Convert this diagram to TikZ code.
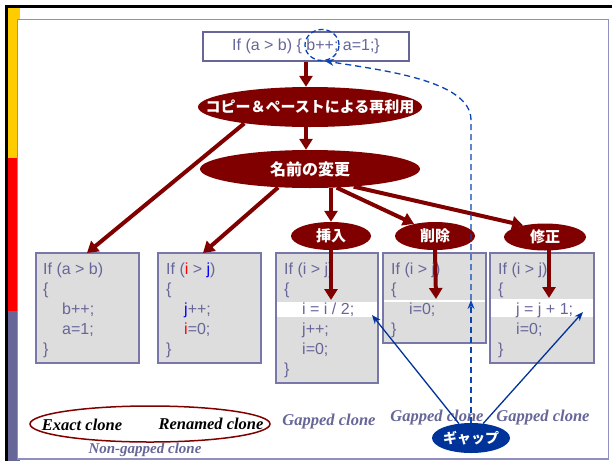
\documentclass[tikz,border=0pt]{standalone}
\usepackage{fontspec}
\setmainfont{Liberation Sans}
\newfontfamily\codef{Liberation Sans}
\newfontfamily\serf{Liberation Serif}
\newfontfamily\jpf{Noto Sans CJK JP}
\usetikzlibrary{shapes.geometric,arrows.meta}
\definecolor{darkred}{HTML}{800000}
\definecolor{codecol}{HTML}{666699}
\definecolor{boxborder}{HTML}{7777AA}
\definecolor{boxfill}{HTML}{DDDDDD}
\definecolor{frameline}{HTML}{9090C0}
\definecolor{darkblue}{HTML}{003399}
\definecolor{dashblue}{HTML}{0A45B5}
\definecolor{baryellow}{HTML}{FFCC00}
\definecolor{barred}{HTML}{FF0000}
\definecolor{barpurple}{HTML}{666699}
\begin{document}
\begin{tikzpicture}[x=1pt,y=-1pt,
  codebox/.style={draw=boxborder, fill=boxfill, line width=1.5pt},
  code/.style={font=\codef\fontsize{16}{19}\selectfont, text=codecol, anchor=base west, inner sep=0pt},
  redell/.style={ellipse, fill=darkred, text=white, inner sep=0pt, font=\jpf\bfseries\fontsize{15}{18}\selectfont},
  redarrow/.style={draw=darkred, line width=4pt, -{Triangle[width=13pt,length=11pt]}},
  bluearrow/.style={draw=darkblue, line width=1.3pt, -{Stealth[width=7pt,length=9pt]}},
  dasharrow/.style={draw=dashblue, line width=1.3pt, dash pattern=on 6pt off 4pt, -{Stealth[width=7pt,length=9pt]}},
  label/.style={font=\serf\bfseries\itshape\fontsize{16.5}{19}\selectfont, inner sep=0pt}
]
\useasboundingbox (0,0) rectangle (612,461);
% frame
\fill[white] (0,0) rectangle (612,461);
\fill[black] (5,5) rectangle (612,8);
\fill[black] (5,5) rectangle (8,461);
\fill[baryellow] (8,8) rectangle (20,158);
\fill[barred] (8,158) rectangle (20,311);
\fill[barpurple] (8,311) rectangle (20,461);
\draw[frameline, line width=1.5pt, fill=white] (17.5,19.5) rectangle (608.5,459);

% top box
\node[draw=codecol, line width=1.5pt, fill=white, minimum width=206pt, minimum height=29pt, inner sep=0pt,
      font=\codef\fontsize{16}{19}\selectfont, text=codecol] (topbox) at (306,46.5) {If (a > b) \{ b++; a=1;\}};
\node[draw=dashblue, line width=1.3pt, dash pattern=on 5pt off 3pt, ellipse, minimum width=34pt, minimum height=31pt, inner sep=0pt] (gapc) at (322,45) {};

% ellipses
\node[redell, minimum width=224pt, minimum height=40pt] (ell1) at (310,107) {\makebox[0pt]{コピー＆ペーストによる再利用}};
\node[redell, minimum width=220pt, minimum height=38pt, font=\jpf\bfseries\fontsize{16}{18}\selectfont] (ell2) at (310,169) {\makebox[0pt]{名前の変更}};
\node[redell, minimum width=80pt, minimum height=28pt] (ins) at (331,236) {\makebox[0pt]{挿入}};
\node[redell, minimum width=80pt, minimum height=28pt] (del) at (435,236) {\makebox[0pt]{削除}};
\node[redell, minimum width=82pt, minimum height=27pt] (mod) at (545,237) {\makebox[0pt]{修正}};

% boxes
\draw[codebox] (36,253) rectangle (139,363);
\draw[codebox] (158,253) rectangle (261,363);
\draw[codebox] (276,253) rectangle (378,383);
\draw[codebox] (383,253) rectangle (486,343);
\draw[codebox] (490,253) rectangle (594,363);
\fill[white] (277,302) rectangle (377,317);
\fill[white] (384,300) rectangle (485,302);
\fill[white] (491,299) rectangle (593,317);
\coordinate (b1top) at (87,253);
\coordinate (b2top) at (203,253);
\coordinate (b3tip) at (331,300);
\coordinate (b4tip) at (436,299);
\coordinate (m5s) at (549,250);
\coordinate (b5tip) at (549,298);
\coordinate (b3band) at (372,315);
\coordinate (b5band) at (583,312);
\coordinate (b4line) at (471,300);

% code text
\node[code] (a1) at (43,274) {If (a > b)};
\node[code] (a2) at (43,294) {\{};
\node[code] (a3) at (62,314) {b++;};
\node[code] (a4) at (62,334) {a=1;};
\node[code] (a5) at (43,354) {\}};

\node[code] (c1) at (166,274) {If ({\color{red}i} > {\color{blue}j})};
\node[code] (c2) at (166,294) {\{};
\node[code] (c3) at (184,314) {{\color{blue}j}++;};
\node[code] (c4) at (184,334) {{\color{red}i}=0;};
\node[code] (c5) at (166,354) {\}};

\node[code] (d1) at (284,274) {If (i > j)};
\node[code] (d2) at (284,294) {\{};
\node[code] (d3) at (302,314) {i = i / 2;};
\node[code] (d4) at (302,334) {j++;};
\node[code] (d5) at (302,354) {i=0;};
\node[code] (d6) at (284,374) {\}};

\node[code] (e1) at (391,274) {If (i > j)};
\node[code] (e2) at (391,294) {\{};
\node[code] (e3) at (409,314) {i=0;};
\node[code] (e4) at (391,334) {\}};

\node[code] (f1) at (498,274) {If (i > j)};
\node[code] (f2) at (498,294) {\{};
\node[code] (f3) at (516,314) {j = j + 1;};
\node[code] (f4) at (516,334) {i=0;};
\node[code] (f5) at (498,354) {\}};

% red arrows
\draw[redarrow] (topbox.south) -- (topbox.south |- ell1.north);
\draw[redarrow] (ell1.south -| topbox.south) -- (ell2.north -| topbox.south);
\draw[redarrow] (ell1.194) -- (b1top);
\draw[redarrow] (ell2.210) -- (b2top);
\draw[redarrow] (ins.north |- ell2.south) -- (ins.north);
\draw[redarrow] (ell2.325) -- (del.150);
\draw[redarrow] (ell2.338) -- (mod.152);
\draw[redarrow] (ins.south) -- (b3tip);
\draw[redarrow] (del.south) -- (b4tip);
\draw[redarrow] (m5s) -- (b5tip);

% bottom labels
\node[draw=darkred, line width=1.5pt, ellipse, minimum width=240pt, minimum height=36pt, inner sep=0pt] (ng) at (150,424) {};
\node[label, text=black] (exact) at (82,425) {Exact clone};
\node[label, text=black] (renamed) at (211,424) {Renamed clone};
\node[label, text=codecol, font=\serf\bfseries\itshape\fontsize{15}{18}\selectfont] (nongap) at (145,450) {Non-gapped clone};
\node[label, text=codecol] (g1) at (329,422) {Gapped clone};
\node[label, text=codecol] (g2) at (437,418) {Gapped clone};
\node[label, text=codecol] (g3) at (543,418) {Gapped clone};

% gap
\node[ellipse, fill=darkblue, text=white, minimum width=78pt, minimum height=30pt, inner sep=0pt,
      font=\jpf\bfseries\fontsize{14}{16}\selectfont] (gap) at (471,438) {\makebox[0pt]{ギャップ}};
\draw[bluearrow] (gap.130) -- (b3band);
\draw[bluearrow] (gap.50) -- (b5band);
\draw[dasharrow] (gap.north) -- (b4line);
\draw[dasharrow] (b4line) -- (471,120) .. controls (471,80) and (380,70) .. (gapc.-80);
\end{tikzpicture}
\end{document}
